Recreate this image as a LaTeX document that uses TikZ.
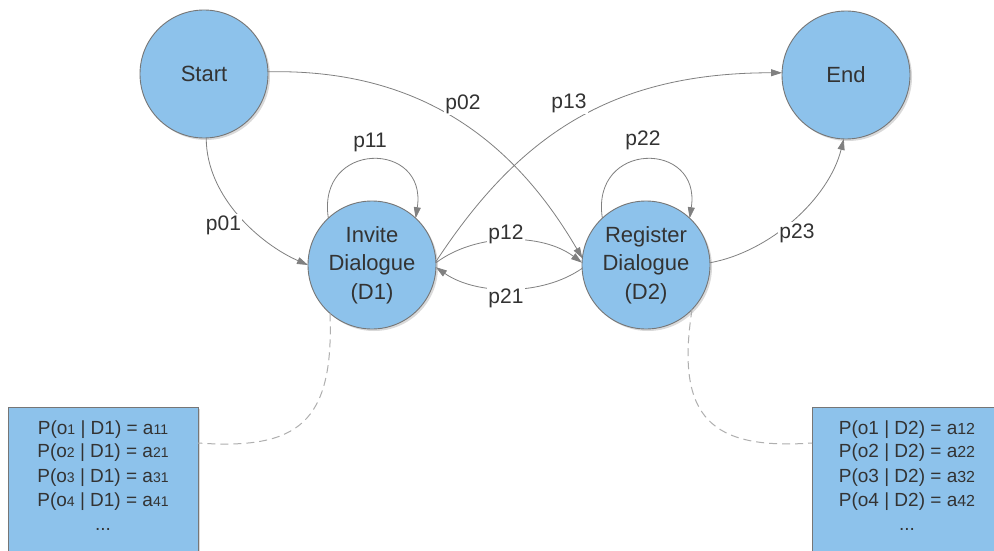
\documentclass[tikz,border=0pt]{standalone}
\usepackage{fontspec}
\setmainfont{Liberation Sans}
\usetikzlibrary{arrows.meta,shadows}
\definecolor{nodeblue}{RGB}{141,194,235}
\definecolor{edgegray}{RGB}{128,128,128}
\definecolor{bordergray}{RGB}{118,118,118}
\definecolor{dashgray}{RGB}{175,175,175}
\definecolor{txt}{RGB}{51,51,51}
\newcommand\smd[1]{{\fontsize{14}{14}\selectfont #1}}
\newcommand\smr[1]{{\fontsize{16}{16}\selectfont #1}}
\begin{document}
\begin{tikzpicture}[x=1pt,y=-1pt,
  state/.style={circle, minimum size=128pt, inner sep=0pt, outer sep=0pt,
    draw=bordergray, line width=0.9pt, fill=nodeblue, text=txt, align=center,
    font=\fontsize{22}{28.5}\selectfont,
    drop shadow={shadow xshift=2pt, shadow yshift=-2pt, opacity=0.15, fill=black}},
  boxnode/.style={rectangle, draw=bordergray, line width=0.9pt, fill=nodeblue,
    minimum width=190pt, minimum height=170pt, anchor=north west,
    inner sep=0pt, outer sep=0pt,
    drop shadow={shadow xshift=2pt, shadow yshift=-2pt, opacity=0.15, fill=black}},
  edge/.style={draw=edgegray, line width=0.8pt, -{Triangle[length=11pt,width=7pt]}},
  lbl/.style={fill=white, text=txt, font=\fontsize{21}{21}\selectfont, anchor=base, inner sep=1pt},
  link/.style={draw=dashgray, line width=1pt, dash pattern=on 8pt off 5pt},
  bline/.style={text=txt, font=\fontsize{19}{19}\selectfont, anchor=base, inner sep=0pt}
]
\useasboundingbox (0,0) rectangle (994,551);
\clip (0,0) rectangle (994,551);
\fill[white] (0,0) rectangle (994,551);

% states
\node[state] (start) at (204,74) {Start};
\node[state] (end) at (846,75) {End};
\node[state] (inv) at (372,265) {Invite\\Dialogue\\(D1)};
\node[state] (reg) at (646,265) {Register\\Dialogue\\(D2)};

% boxes
\node[boxnode] (box1) at (8,407) {};
\node[boxnode] (box2) at (812,407) {};

\node[bline] (l11) at (103,434.3) {P(o\smd{1} | D1) = a\smd{11}};
\node[bline] (l12) at (103,457.7) {P(o\smd{2} | D1) = a\smd{21}};
\node[bline] (l13) at (103,482.3) {P(o\smd{3} | D1) = a\smd{31}};
\node[bline] (l14) at (103,506.7) {P(o\smd{4} | D1) = a\smd{41}};
\node[bline] (l15) at (103,530) {...};

\node[bline] (r11) at (907,434.3) {P(o1 | D2) = a\smr{12}};
\node[bline] (r12) at (907,457.7) {P(o2 | D2) = a\smr{22}};
\node[bline] (r13) at (907,482.3) {P(o3 | D2) = a\smr{32}};
\node[bline] (r14) at (907,506.7) {P(o4 | D2) = a\smr{42}};
\node[bline] (r15) at (907,530) {...};

% connectors
\draw[edge] (start.-88) .. controls +(0,60) and +(-46,-20) .. (inv.180);
\draw[edge] (start.2) .. controls +(150,-3) and +(-70,-120) .. (reg.174);
\draw[edge] (inv.3) .. controls +(82,-125) and +(-172,0) .. (end.178);
\draw[edge] (inv.2) .. controls +(40,-30) and +(-40,-30) .. (reg.178);
\draw[edge] (reg.183) .. controls +(-40,28) and +(40,28) .. (inv.-2);
\draw[edge] (reg.2) .. controls +(60,-11) and +(-15,60) .. (end.-92);
\draw[edge] (inv.133) .. controls +(-12,-78) and +(12,-78) .. (inv.47);
\draw[edge] (reg.133) .. controls +(-12,-78) and +(12,-78) .. (reg.47);

% dashed links
\draw[link] (inv.-131) .. controls +(4,110) and +(100,7) .. ([yshift=-36pt]box1.north east);
\draw[link] (reg.-44) .. controls +(-17,109) and +(-100,7) .. ([yshift=-36pt]box2.north west);

% labels
\node[lbl] (lp01) at (223.5,230) {p01};
\node[lbl] (lp02) at (463,110) {p02};
\node[lbl] (lp13) at (569,109) {p13};
\node[lbl] (lp11) at (370,147) {p11};
\node[lbl] (lp22) at (643,146) {p22};
\node[lbl] (lp12) at (506,239) {p12};
\node[lbl] (lp21) at (506,303) {p21};
\node[lbl] (lp23) at (797,238) {p23};
\end{tikzpicture}
\end{document}
